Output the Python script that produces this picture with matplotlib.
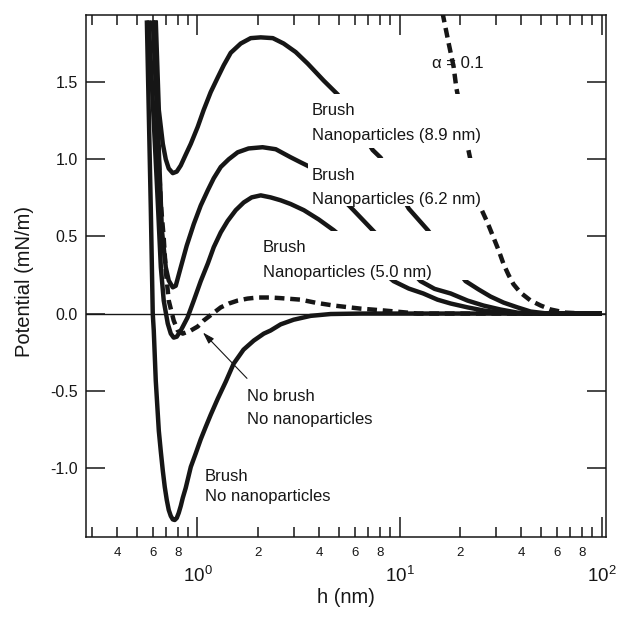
import numpy as np
import matplotlib
matplotlib.use('Agg')
import matplotlib.pyplot as plt
from matplotlib.ticker import LogLocator, FuncFormatter
from matplotlib.patches import Rectangle

plt.rcParams['font.family'] = ['Liberation Sans', 'DejaVu Sans']
plt.rcParams['mathtext.fontset'] = 'custom'
plt.rcParams['mathtext.rm'] = 'Liberation Sans'
plt.rcParams['mathtext.it'] = 'Liberation Sans:italic'
plt.rcParams['axes.unicode_minus'] = False

# ---------------- data ----------------
# Brush, no nanoparticles
h_brush_nonp = [0.562, 0.588, 0.601, 0.608, 0.622, 0.644, 0.659, 0.674, 0.689, 0.705, 0.721, 0.738,
                0.755, 0.772, 0.790, 0.808, 0.827, 0.846, 0.875, 0.927, 0.981, 1.038, 1.099, 1.163,
                1.26, 1.38, 1.51, 1.69, 1.90, 2.13, 2.30, 2.58, 2.99, 3.63, 4.56, 6.4, 10, 100]
v_brush_nonp = [1.90, 0.67, 0.0, -0.11, -0.435, -0.76, -0.896, -1.019, -1.123, -1.208, -1.273, -1.312,
                -1.334, -1.338, -1.325, -1.292, -1.247, -1.195, -1.130, -0.994, -0.906, -0.815, -0.734, -0.656,
                -0.552, -0.442, -0.325, -0.234, -0.175, -0.13, -0.11, -0.07, -0.04, -0.015, -0.003, 0.0, 0.0, 0.0]

# Brush + nanoparticles 5.0 nm
h_np50 = [0.574, 0.636, 0.659, 0.681, 0.713, 0.738, 0.763, 0.790, 0.827, 0.893, 0.959, 1.038,
          1.126, 1.204, 1.304, 1.41, 1.547, 1.694, 1.855, 2.056, 2.30, 2.58, 2.89, 3.36, 3.98, 4.72,
          9.34, 11.1, 13.1, 15.4, 17.9, 21.7, 26.0, 31.6, 38.3, 100]
v_np50 = [1.90, 0.73, 0.30, 0.084, -0.065, -0.13, -0.156, -0.15, -0.11, -0.026, 0.084, 0.21,
          0.325, 0.43, 0.526, 0.60, 0.67, 0.72, 0.753, 0.766, 0.753, 0.734, 0.71, 0.67, 0.61, 0.54,
          0.21, 0.162, 0.13, 0.09, 0.065, 0.04, 0.02, 0.006, 0.0, 0.0]

# Brush + nanoparticles 6.2 nm
h_np62 = [0.601, 0.644, 0.667, 0.697, 0.721, 0.755, 0.781, 0.827, 0.885, 0.959, 1.038, 1.126,
          1.204, 1.304, 1.428, 1.581, 1.79, 2.10, 2.44, 2.89, 3.24, 3.63,
          5.72, 7.36, 12.7, 14.9, 17.9, 21.7, 26.0, 31.6, 38.3, 49.6, 100]
v_np62 = [1.90, 1.06, 0.54, 0.30, 0.214, 0.17, 0.18, 0.30, 0.44, 0.58, 0.70, 0.80,
          0.877, 0.95, 1.0, 1.045, 1.07, 1.078, 1.065, 1.013, 0.98, 0.948,
          0.69, 0.54, 0.21, 0.16, 0.13, 0.084, 0.052, 0.026, 0.006, 0.0, 0.0]

# Brush + nanoparticles 8.9 nm
h_np89 = [0.622, 0.644, 0.674, 0.697, 0.721, 0.755, 0.790, 0.827, 0.875, 0.927, 1.003, 1.074,
          1.163, 1.26, 1.35, 1.461, 1.637, 1.834, 2.056, 2.36, 2.67, 3.06, 3.51, 4.21, 4.94,
          7.36, 8.06, 11.1, 13.8, 21.2, 24.6, 28.2, 32.7, 38.3, 44.5, 53.9, 100]
v_np89 = [1.90, 1.32, 1.10, 1.0, 0.94, 0.91, 0.92, 0.96, 1.03, 1.10, 1.21, 1.32,
          1.435, 1.53, 1.61, 1.69, 1.75, 1.785, 1.79, 1.785, 1.75, 1.695, 1.62, 1.51, 1.42,
          1.06, 1.01, 0.68, 0.54, 0.21, 0.156, 0.11, 0.071, 0.04, 0.013, 0.0, 0.0]

# No brush, no nanoparticles (dashed)
h_nobrush = [0.615, 0.622, 0.636, 0.644, 0.659, 0.681, 0.697, 0.721, 0.763, 0.799, 0.846, 0.927,
             1.003, 1.074, 1.19, 1.304, 1.43, 1.58, 1.77, 1.99, 2.30, 2.58, 3.24, 3.85, 4.72,
             6.4, 8.34, 12.3, 100]
v_nobrush = [1.90, 1.64, 1.32, 0.99, 0.71, 0.49, 0.28, 0.084, -0.045, -0.11, -0.13, -0.11,
             -0.084, -0.045, 0.0, 0.04, 0.065, 0.084, 0.097, 0.104, 0.104, 0.10, 0.09, 0.07, 0.052,
             0.032, 0.02, 0.0, 0.0]

# alpha = 0.1 (dashed)
h_alpha = [16.3, 17.5, 18.5, 19.1, 21.7, 21.9, 25.1, 27.2, 29.2, 30.9, 32.7, 34.6, 36.6, 39.6,
           44.5, 49.9, 56.0, 66.2, 83, 100]
v_alpha = [1.95, 1.75, 1.60, 1.46, 1.10, 1.06, 0.69, 0.59, 0.49, 0.41, 0.32, 0.25, 0.19, 0.136,
           0.084, 0.052, 0.026, 0.006, 0.0, 0.0]

y_ticks = [-1.0, -0.5, 0.0, 0.5, 1.0, 1.5]
y_ticklabels = ['-1.0', '-0.5', '0.0', '0.5', '1.0', '1.5']

# ---------------- figure ----------------
fig = plt.figure(figsize=(6.17, 6.17), dpi=100)
ax = fig.add_axes([0.1394, 0.1297, 0.9822 - 0.1394, 0.9757 - 0.1297])
ax.set_xscale('log')
ax.set_xlim(0.281, 105)
ax.set_ylim(-1.448, 1.935)

ink = '#161616'
ax.axhline(0, color=ink, lw=1.0, zorder=1)

LW = 3.2
for hx, vy in [(h_brush_nonp, v_brush_nonp), (h_np50, v_np50), (h_np62, v_np62), (h_np89, v_np89)]:
    ax.plot(hx, vy, color=ink, lw=LW, solid_capstyle='butt', solid_joinstyle='round', zorder=2)
for hx, vy in [(h_nobrush, v_nobrush), (h_alpha, v_alpha)]:
    ax.plot(hx, vy, color=ink, lw=LW, ls=(0, (2.2, 1.3)), dash_capstyle='butt',
            dash_joinstyle='round', zorder=2)

# white label backgrounds that interrupt the curves
for (x0, x1, y0, y1) in [(3.43, 27.2, 1.075, 1.42), (3.51, 27.2, 0.695, 1.011), (2.01, 22.4, 0.22, 0.532)]:
    ax.add_patch(Rectangle((x0, y0), x1 - x0, y1 - y0, facecolor='white', edgecolor='none', zorder=3))

fs = 12
def lab(x, y, s):
    ax.text(x, y, s, fontsize=fs, ha='left', va='baseline', color=ink, zorder=4)

lab(3.69, 1.286, 'Brush')
lab(3.69, 1.123, 'Nanoparticles (8.9 nm)')
lab(3.69, 0.864, 'Brush')
lab(3.69, 0.708, 'Nanoparticles (6.2 nm)')
lab(2.11, 0.396, 'Brush')
lab(2.11, 0.240, 'Nanoparticles (5.0 nm)')
lab(1.758, -0.565, 'No brush')
lab(1.758, -0.714, 'No nanoparticles')
lab(1.089, -1.084, 'Brush')
lab(1.089, -1.214, 'No nanoparticles')
ax.text(14.5, 1.59, '\u03b1 = 0.1', fontsize=fs, ha='left', va='baseline', color=ink, zorder=4)

ax.annotate('', xy=(1.065, -0.123), xytext=(1.758, -0.42),
            arrowprops=dict(arrowstyle='-|>,head_length=0.7,head_width=0.22', lw=0.8,
                            color=ink, shrinkA=0, shrinkB=0), zorder=4)

# axes styling
ax.set_yticks(y_ticks)
ax.set_yticklabels(y_ticklabels)
ax.xaxis.set_major_locator(LogLocator(base=10, numticks=10))
ax.xaxis.set_minor_locator(LogLocator(base=10, subs=np.arange(2, 10), numticks=100))
ax.xaxis.set_major_formatter(FuncFormatter(lambda v, p: r'$10^{%d}$' % int(round(np.log10(v)))))

def minor_fmt(v, p):
    e = np.floor(np.log10(v) + 1e-9)
    m = int(round(v / 10 ** e))
    return str(m) if m in (2, 4, 6, 8) else ''
ax.xaxis.set_minor_formatter(FuncFormatter(minor_fmt))

ax.tick_params(axis='x', which='major', direction='in', length=14.4, width=1.1, top=True,
               labelsize=13.5, pad=21, colors=ink)
ax.tick_params(axis='x', which='minor', direction='in', length=7.2, width=1.1, top=True,
               labelsize=9.5, pad=7, colors=ink)
ax.tick_params(axis='y', which='major', direction='in', length=14, width=1.1, right=True,
               labelsize=11.5, pad=6, colors=ink)
ax.tick_params(axis='y', which='minor', left=False, right=False)
for s in ax.spines.values():
    s.set_linewidth(1.1)
    s.set_color(ink)

ax.set_xlabel('h (nm)', fontsize=14.5, color=ink)
ax.set_ylabel('Potential (mN/m)', fontsize=14.5, color=ink)
ax.xaxis.set_label_coords(0.5, -0.097)
ax.yaxis.set_label_coords(-0.10, 0.49)

fig.savefig('out.png', dpi=100)
